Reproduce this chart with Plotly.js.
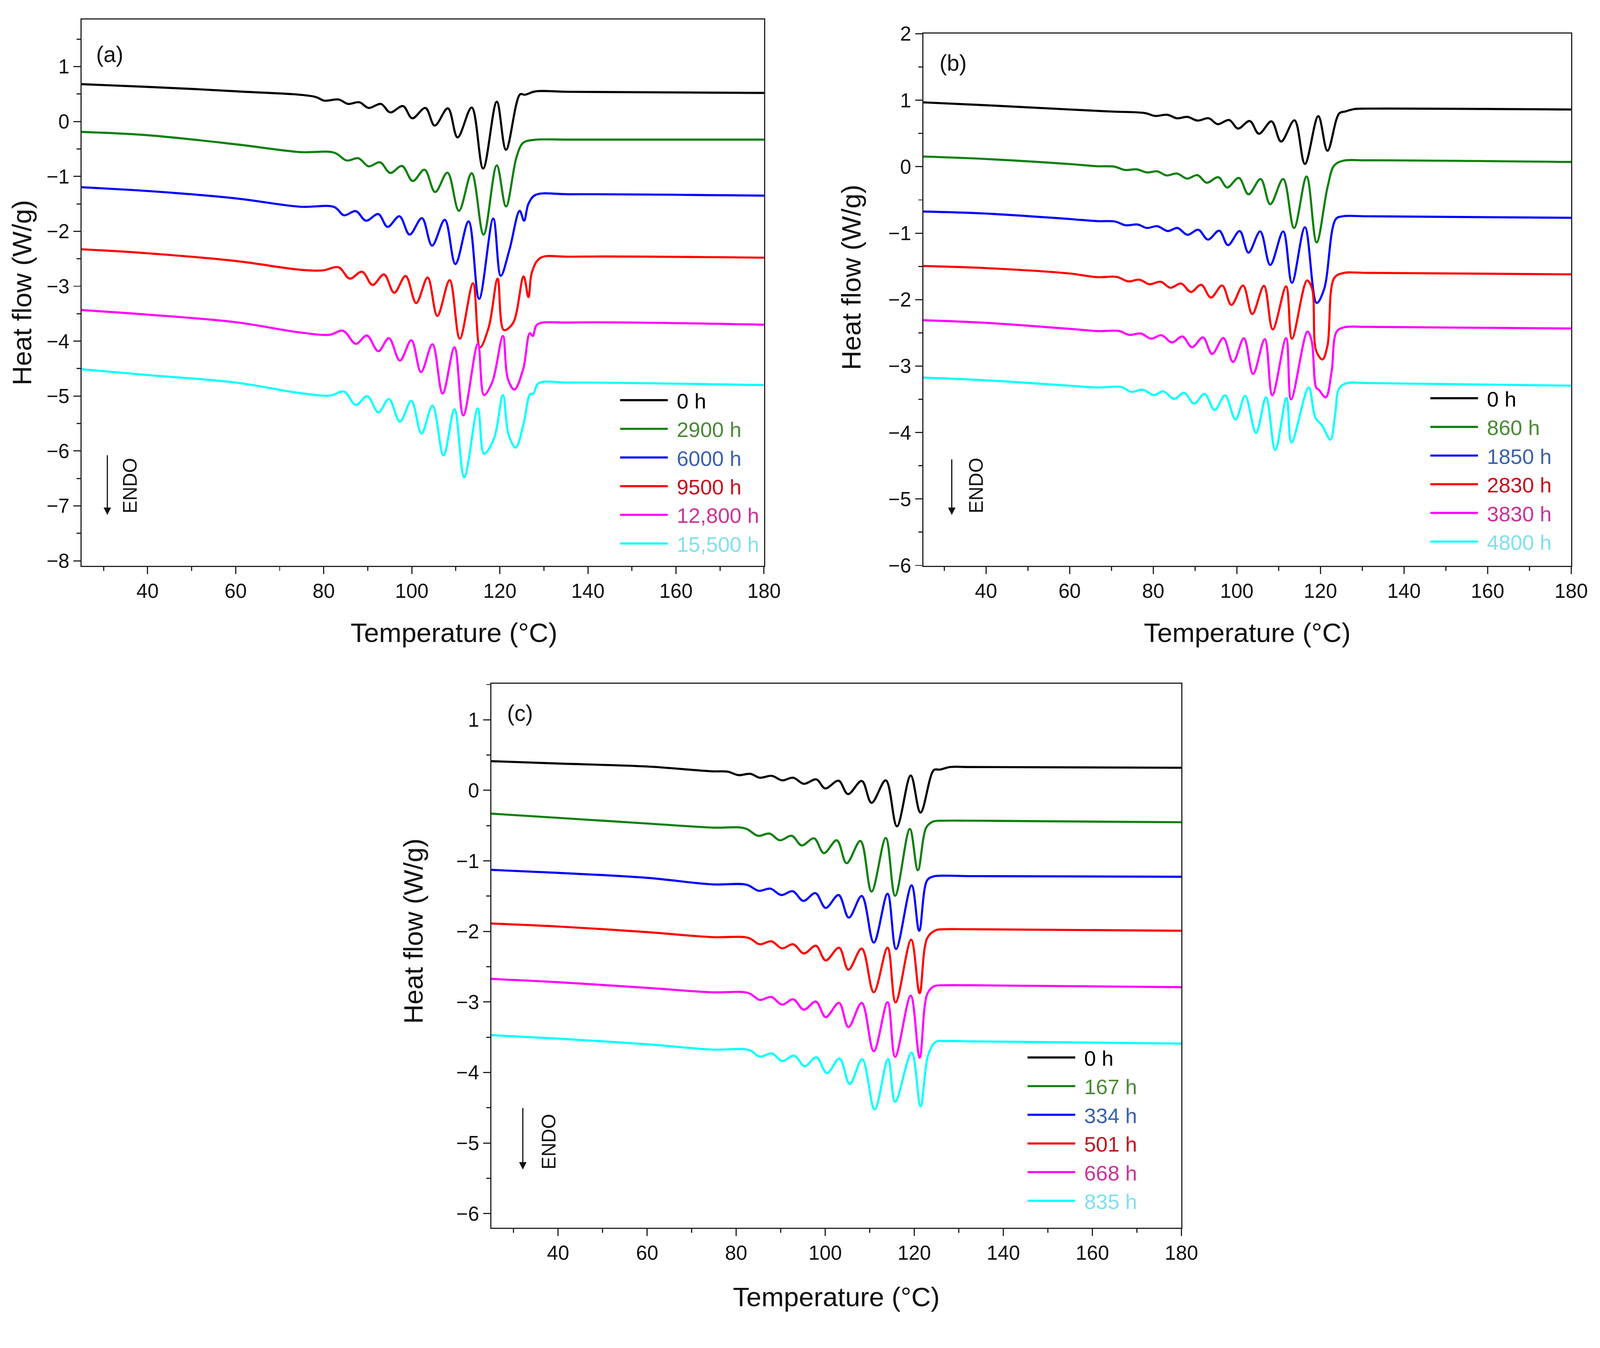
<!DOCTYPE html>
<html>
<head>
<meta charset="utf-8">
<script src="https://cdn.plot.ly/plotly-3.0.1.min.js"></script>
<style>html,body{margin:0;padding:0;background:#fff;overflow:hidden;}</style>
</head>
<body>
<div id="chart"></div>
<script>
// ---------- Panel (a) ----------
const a_names = ["0 h", "2900 h", "6000 h", "9500 h", "12,800 h", "15,500 h"];
const a_T_0 = [25, 40, 60, 78, 80.1, 83.4, 85.5, 88.1, 90.2, 93.0, 95.1, 98.0, 100.1, 103.1, 105.2, 108.2, 110.4, 113.6, 116.2, 119.3, 121.4, 124.6, 125.7, 128.1, 135.8, 180];
const a_H_0 = [0.68, 0.63, 0.55, 0.45, 0.38, 0.40, 0.32, 0.35, 0.246, 0.32, 0.165, 0.28, 0.058, 0.246, -0.075, 0.24, -0.29, 0.254, -0.857, 0.36, -0.514, 0.495, 0.487, 0.548, 0.54, 0.52];
const a_T_1 = [25, 40, 60, 74.6, 82.4, 85.2, 87.9, 90.2, 92.8, 95.1, 97.8, 100.2, 102.9, 105.3, 108.1, 110.7, 113.6, 116.3, 119.3, 121.4, 123.8, 125.3, 127.7, 135.8, 180];
const a_H_1 = [-0.19, -0.25, -0.415, -0.557, -0.568, -0.71, -0.67, -0.817, -0.744, -0.937, -0.81, -1.084, -0.878, -1.285, -0.932, -1.627, -0.942, -2.06, -0.80, -1.547, -0.643, -0.388, -0.335, -0.33, -0.33];
const a_T_2 = [25, 40, 60, 74.6, 82.4, 84.6, 87.3, 89.6, 92.4, 94.5, 97.2, 99.5, 102.3, 104.6, 107.5, 109.9, 112.9, 115.3, 118.5, 120.2, 122.2, 124.5, 125.5, 126.5, 128.1, 135.8, 180];
const a_H_2 = [-1.198, -1.266, -1.40, -1.552, -1.558, -1.708, -1.633, -1.807, -1.686, -1.92, -1.726, -2.06, -1.76, -2.26, -1.79, -2.596, -1.82, -3.23, -1.767, -2.81, -2.33, -1.627, -1.807, -1.499, -1.338, -1.325, -1.35];
const a_T_3 = [25, 40, 60, 74.6, 79.7, 83.4, 85.9, 88.7, 91.1, 93.7, 96.0, 98.6, 101.0, 103.6, 105.8, 108.6, 110.9, 113.9, 115.5, 117.5, 119.5, 120.9, 123.0, 125.4, 126.5, 127.3, 129.2, 135.8, 180];
const a_H_3 = [-2.327, -2.40, -2.54, -2.699, -2.713, -2.656, -2.862, -2.736, -2.976, -2.785, -3.119, -2.813, -3.307, -2.842, -3.541, -2.89, -3.955, -2.947, -4.112, -3.74, -2.862, -3.798, -3.67, -2.822, -3.198, -2.742, -2.485, -2.462, -2.48];
const a_T_4 = [25, 40, 60, 74.6, 81.3, 84.4, 87.3, 89.8, 92.4, 94.8, 97.3, 99.9, 102.1, 104.7, 107.0, 109.7, 111.7, 115.0, 116.4, 118.3, 120.7, 121.8, 123.3, 125.3, 126.8, 127.5, 128.5, 135.8, 180];
const a_H_4 = [-3.434, -3.517, -3.655, -3.841, -3.884, -3.812, -4.049, -3.898, -4.183, -3.946, -4.354, -3.983, -4.563, -4.055, -4.954, -4.112, -5.353, -4.049, -4.982, -4.74, -3.906, -4.68, -4.882, -4.51, -3.855, -3.906, -3.698, -3.661, -3.70];
const a_T_5 = [25, 40, 60, 74.6, 81.5, 84.6, 87.3, 89.9, 92.4, 94.8, 97.3, 99.9, 102.2, 104.7, 107.2, 109.7, 111.9, 115.0, 116.4, 118.7, 120.7, 122.0, 123.6, 125.3, 126.9, 127.6, 128.8, 135.8, 180];
const a_H_5 = [-4.511, -4.617, -4.754, -4.945, -4.99, -4.917, -5.162, -5.002, -5.296, -5.054, -5.467, -5.088, -5.682, -5.173, -6.081, -5.239, -6.48, -5.225, -6.053, -5.767, -4.982, -5.71, -5.938, -5.539, -4.962, -4.954, -4.768, -4.754, -4.80];

// ---------- Panel (b) ----------
const b_names = ["0 h", "860 h", "1850 h", "2830 h", "3830 h", "4800 h"];
const b_T_0 = [25, 40, 60, 70, 78.1, 80.4, 83.4, 85.7, 88.2, 90.6, 93.3, 95.4, 98.2, 100.3, 103.1, 105.3, 108.3, 110.6, 113.8, 116.3, 119.5, 121.7, 124.5, 126.0, 128.2, 131.0, 180];
const b_H_0 = [0.968, 0.925, 0.861, 0.83, 0.806, 0.764, 0.781, 0.729, 0.75, 0.694, 0.729, 0.64, 0.702, 0.574, 0.688, 0.496, 0.682, 0.378, 0.698, 0.042, 0.76, 0.24, 0.801, 0.832, 0.868, 0.874, 0.861];
const b_T_1 = [25, 40, 60, 66.6, 70.7, 73.2, 76.1, 78.5, 81.0, 83.2, 85.7, 88.1, 90.6, 92.8, 95.6, 97.7, 100.5, 102.8, 105.7, 108.0, 111.1, 113.7, 116.7, 119.1, 121.7, 123.3, 125.4, 131.0, 180];
const b_H_1 = [0.153, 0.116, 0.04, 0.007, 0.001, -0.049, -0.04, -0.086, -0.07, -0.131, -0.103, -0.179, -0.127, -0.241, -0.158, -0.313, -0.169, -0.416, -0.185, -0.565, -0.185, -0.922, -0.148, -1.139, -0.313, 0.017, 0.089, 0.096, 0.071];
const b_T_2 = [25, 40, 60, 66.6, 70.9, 73.4, 76.3, 78.5, 81.0, 83.5, 85.8, 88.2, 90.8, 93.1, 95.8, 97.9, 100.7, 102.8, 105.6, 108.0, 111.1, 113.2, 116.3, 119.1, 120.9, 123.7, 125.4, 131.0, 180];
const b_H_2 = [-0.675, -0.705, -0.787, -0.819, -0.825, -0.881, -0.87, -0.922, -0.895, -0.969, -0.922, -1.025, -0.949, -1.097, -0.963, -1.18, -0.969, -1.293, -0.974, -1.479, -0.974, -1.748, -0.912, -2.05, -1.84, -0.788, -0.746, -0.746, -0.769];
const b_T_3 = [25, 40, 60, 66.6, 71.3, 74.0, 76.7, 79.1, 81.8, 84.1, 86.7, 89.0, 91.5, 93.8, 96.5, 98.7, 101.5, 103.7, 106.5, 108.6, 111.8, 113.2, 116.8, 118.0, 119.0, 120.5, 121.7, 123.3, 125.4, 131.0, 180];
const b_H_3 = [-1.495, -1.526, -1.607, -1.662, -1.658, -1.725, -1.70, -1.769, -1.731, -1.821, -1.758, -1.884, -1.777, -1.969, -1.788, -2.08, -1.788, -2.218, -1.792, -2.448, -1.802, -2.588, -1.712, -1.83, -2.77, -2.90, -2.693, -1.677, -1.601, -1.597, -1.62];
const b_T_4 = [25, 40, 60, 66.6, 71.9, 74.2, 77.1, 79.5, 82.0, 84.5, 87.0, 89.3, 91.9, 94.1, 96.8, 99.1, 101.7, 103.9, 106.7, 108.5, 111.8, 113.0, 116.9, 117.9, 119.0, 119.6, 121.3, 122.7, 123.9, 125.8, 131.0, 180];
const b_H_4 = [-2.31, -2.35, -2.44, -2.473, -2.473, -2.53, -2.511, -2.588, -2.536, -2.645, -2.555, -2.716, -2.569, -2.818, -2.578, -2.939, -2.582, -3.119, -2.594, -3.441, -2.578, -3.502, -2.482, -2.617, -3.326, -3.355, -3.47, -3.077, -2.482, -2.415, -2.41, -2.435];
const b_T_5 = [25, 40, 60, 66.6, 72.4, 74.8, 77.5, 80.2, 82.4, 85.0, 87.4, 89.8, 92.3, 94.7, 97.2, 99.7, 102.0, 104.6, 107.0, 109.2, 111.9, 113.1, 117.2, 118.8, 120.4, 122.4, 123.5, 124.5, 126.2, 131.0, 180];
const b_H_5 = [-3.174, -3.214, -3.295, -3.322, -3.316, -3.387, -3.355, -3.437, -3.38, -3.494, -3.402, -3.565, -3.418, -3.661, -3.441, -3.805, -3.45, -4.006, -3.47, -4.261, -3.479, -4.15, -3.322, -3.776, -3.891, -4.108, -3.748, -3.335, -3.259, -3.255, -3.295];

// ---------- Panel (c) ----------
const c_names = ["0 h", "167 h", "334 h", "501 h", "668 h", "835 h"];
const c_T_0 = [25, 40, 60, 74.6, 78.1, 80.5, 83.2, 85.3, 88.0, 90.3, 92.8, 95.2, 98.0, 100.0, 103.0, 105.1, 108.2, 110.4, 113.6, 116.1, 119.2, 121.4, 124.4, 125.7, 128.1, 132.4, 180];
const c_H_0 = [0.414, 0.38, 0.338, 0.27, 0.265, 0.216, 0.234, 0.179, 0.206, 0.142, 0.179, 0.093, 0.155, 0.027, 0.137, -0.053, 0.133, -0.177, 0.142, -0.51, 0.21, -0.315, 0.289, 0.294, 0.331, 0.331, 0.32];
const c_T_1 = [25, 40, 60, 74.6, 82.0, 84.9, 87.5, 89.8, 92.5, 94.7, 97.5, 99.7, 102.6, 104.8, 107.9, 110.4, 113.6, 115.7, 119.0, 120.8, 122.7, 124.2, 127.0, 132.4, 180];
const c_H_1 = [-0.33, -0.39, -0.47, -0.528, -0.539, -0.644, -0.613, -0.708, -0.644, -0.781, -0.680, -0.890, -0.708, -1.033, -0.717, -1.435, -0.675, -1.494, -0.547, -1.132, -0.525, -0.443, -0.430, -0.430, -0.452];
const c_T_2 = [25, 40, 60, 74.6, 82.3, 85.1, 87.7, 90.1, 92.7, 95.1, 97.8, 100.1, 103.0, 105.3, 108.2, 110.9, 114.0, 115.9, 119.4, 121.1, 122.9, 124.4, 127.0, 132.4, 180];
const c_H_2 = [-1.127, -1.17, -1.24, -1.333, -1.338, -1.424, -1.393, -1.484, -1.430, -1.567, -1.457, -1.667, -1.484, -1.804, -1.497, -2.158, -1.466, -2.249, -1.347, -1.99, -1.274, -1.219, -1.210, -1.216, -1.225];
const c_T_3 = [25, 40, 60, 74.6, 82.7, 85.3, 87.9, 90.3, 92.8, 95.2, 97.9, 100.1, 103.1, 105.2, 108.2, 110.9, 114.0, 115.8, 119.3, 121.2, 122.9, 124.8, 127.0, 132.4, 180];
const c_H_3 = [-1.888, -1.93, -2.01, -2.081, -2.091, -2.182, -2.140, -2.240, -2.182, -2.312, -2.203, -2.411, -2.231, -2.543, -2.243, -2.863, -2.231, -3.007, -2.117, -2.875, -2.095, -1.983, -1.969, -1.969, -1.99];
const c_T_4 = [25, 40, 60, 74.6, 82.7, 85.3, 87.9, 90.3, 92.8, 95.2, 97.9, 100.1, 103.1, 105.2, 108.2, 110.9, 114.0, 115.7, 119.2, 121.2, 122.9, 124.4, 127.0, 132.4, 180];
const c_H_4 = [-2.673, -2.72, -2.80, -2.863, -2.872, -2.971, -2.929, -3.038, -2.962, -3.110, -2.994, -3.215, -3.013, -3.356, -3.013, -3.699, -3.002, -3.778, -2.911, -3.789, -2.890, -2.778, -2.763, -2.763, -2.79];
const c_T_5 = [25, 40, 60, 74.6, 82.9, 85.3, 88.0, 90.4, 93.0, 95.4, 98.0, 100.4, 103.2, 105.5, 108.3, 111.1, 114.1, 115.7, 119.4, 121.4, 123.1, 124.8, 127.3, 132.4, 180];
const c_H_5 = [-3.47, -3.52, -3.60, -3.675, -3.681, -3.775, -3.730, -3.838, -3.760, -3.910, -3.784, -4.009, -3.802, -4.163, -3.811, -4.524, -3.811, -4.416, -3.717, -4.479, -3.757, -3.567, -3.554, -3.558, -3.59];

// ---------- styling ----------
const lineColors = ["#000000", "#0a800a", "#0000ff", "#ff0000", "#ff00ff", "#00ffff"];
const textColors = ["#000000", "#4a8a36", "#3a62ad", "#c8101c", "#cc3399", "#80e0ee"];
const FONT = 'Arial, "Liberation Sans", sans-serif';

// fit the figure to the real viewport width, keep the reference aspect ratio, scale pixel sizes
let W = window.innerWidth;
if (!W || W < 1000) W = 4159;
W = Math.min(W, 4159);
const s = W / 4159;
const H = Math.round(3452 * s);
const px = v => v * s;

function series(Ts, Hs, names, xa, ya, leg) {
  return Ts.map((T, i) => ({
    type: 'scatter', mode: 'lines', x: T, y: Hs[i],
    xaxis: xa, yaxis: ya, legend: leg,
    name: '<span style="color:' + textColors[i] + '">' + names[i] + '</span>',
    line: {color: lineColors[i], width: px(5.5), shape: 'spline', smoothing: 1},
    hoverinfo: 'skip'
  }));
}

const traces = [].concat(
  series([a_T_0, a_T_1, a_T_2, a_T_3, a_T_4, a_T_5], [a_H_0, a_H_1, a_H_2, a_H_3, a_H_4, a_H_5], a_names, 'x', 'y', 'legend'),
  series([b_T_0, b_T_1, b_T_2, b_T_3, b_T_4, b_T_5], [b_H_0, b_H_1, b_H_2, b_H_3, b_H_4, b_H_5], b_names, 'x2', 'y2', 'legend2'),
  series([c_T_0, c_T_1, c_T_2, c_T_3, c_T_4, c_T_5], [c_H_0, c_H_1, c_H_2, c_H_3, c_H_4, c_H_5], c_names, 'x3', 'y3', 'legend3')
);

const AXC = '#222222';
function xax(domain, anchor, standoff) {
  return {
    domain: domain, anchor: anchor, range: [25, 180], dtick: 20, tick0: 0,
    showline: true, linecolor: AXC, linewidth: px(3), mirror: true,
    ticks: 'outside', ticklen: px(18), tickwidth: px(3), tickcolor: AXC,
    minor: {ticks: 'outside', dtick: 10, ticklen: px(10), tickwidth: px(3), tickcolor: AXC},
    showgrid: false, zeroline: false,
    tickfont: {family: FONT, size: px(52), color: '#111'},
    ticklabelstandoff: px(20),
    title: {text: 'Temperature (°C)', font: {family: FONT, size: px(70), color: '#111'}, standoff: px(standoff)}
  };
}
function yax(domain, anchor, range, standoff) {
  return {
    domain: domain, anchor: anchor, range: range, dtick: 1, tick0: 0,
    showline: true, linecolor: AXC, linewidth: px(3), mirror: true,
    ticks: 'outside', ticklen: px(18), tickwidth: px(3), tickcolor: AXC,
    minor: {ticks: 'outside', dtick: 0.5, ticklen: px(10), tickwidth: px(3), tickcolor: AXC},
    showgrid: false, zeroline: false,
    tickfont: {family: FONT, size: px(52), color: '#111'},
    ticklabelstandoff: px(10),
    title: {text: 'Heat flow (W/g)', font: {family: FONT, size: px(70), color: '#111'}, standoff: px(standoff)}
  };
}
function leg(x, y) {
  return {x: x, y: y, xanchor: 'left', yanchor: 'top', bgcolor: 'rgba(0,0,0,0)', borderwidth: 0,
          font: {family: FONT, size: px(55), color: '#000'}, itemwidth: Math.max(30, px(142)), tracegroupgap: 0};
}
function label(txt, x, y) {
  return {text: txt, x: x, y: y, xref: 'paper', yref: 'paper', showarrow: false,
          font: {family: FONT, size: px(58), color: '#111'}, xanchor: 'center', yanchor: 'middle'};
}
function endoArrow(x, y, ay) {
  return {text: '', x: x, y: y, xref: 'paper', yref: 'paper', showarrow: true,
          ax: 0, ay: px(ay), arrowhead: 2, arrowsize: 1.3, arrowwidth: px(3), arrowcolor: '#111'};
}
function endoText(x, y) {
  return {text: 'ENDO', x: x, y: y, xref: 'paper', yref: 'paper', showarrow: false, textangle: -90,
          font: {family: FONT, size: px(50), color: '#111'}, xanchor: 'center', yanchor: 'middle'};
}

const layout = {
  width: W, height: H, margin: {l: 0, r: 0, t: 0, b: 0},
  paper_bgcolor: '#ffffff', plot_bgcolor: '#ffffff', showlegend: true,
  font: {family: FONT, size: px(52), color: '#111'},
  xaxis: xax([0.05097, 0.47752], 'y', 56),
  yaxis: yax([0.57387, 0.98523], 'x', [-8.09, 1.855], 17),
  xaxis2: xax([0.57706, 0.98197], 'y2', 56),
  yaxis2: yax([0.57387, 0.97480], 'x2', [-6.005, 2.005], 49),
  xaxis3: xax([0.30705, 0.73840], 'y3', 62),
  yaxis3: yax([0.07532, 0.48494], 'x3', [-6.2, 1.51], 65),
  legend: leg(1607 / 4159, 1 - 998 / 3452),
  legend2: leg(3713 / 4159, 1 - 993 / 3452),
  legend3: leg(2666 / 4159, 1 - 2707 / 3452),
  annotations: [
    label('(a)', 285 / 4159, 1 - 141 / 3452),
    label('(b)', 2478 / 4159, 1 - 163 / 3452),
    label('(c)', 1352 / 4159, 1 - 1854 / 3452),
    endoArrow(279 / 4159, 1 - 1339 / 3452, -157),
    endoText(338 / 4159, 1 - 1263 / 3452),
    endoArrow(2474 / 4159, 1 - 1339 / 3452, -146),
    endoText(2537 / 4159, 1 - 1263 / 3452),
    endoArrow(1359 / 4159, 1 - 3041 / 3452, -162),
    endoText(1426 / 4159, 1 - 2968 / 3452)
  ]
};

const chartDiv = document.getElementById('chart');
chartDiv.style.width = W + 'px';
chartDiv.style.height = H + 'px';

function shiftTitle(cls, dx, dy) {
  const g = document.querySelector('.' + cls);
  if (!g) return;
  const prev = g.getAttribute('transform') || '';
  g.setAttribute('transform', prev + ' translate(' + px(dx).toFixed(1) + ',' + px(dy).toFixed(1) + ')');
}

Plotly.newPlot(chartDiv, traces, layout, {displayModeBar: false, staticPlot: true}).then(function () {
  // legend line samples: slightly shorter than the symbol column, leaving a gap before the label
  const len = Math.round(px(124));
  document.querySelectorAll('.legendlines path').forEach(function (p) {
    p.setAttribute('d', 'M' + px(5).toFixed(1) + ',0h' + len);
  });
  // axis titles that sit off-centre in the reference
  shiftTitle('g-xtitle', 81, 0);
  shiftTitle('g-y2title', 0, -58);
  shiftTitle('g-y3title', 0, -64);
});
</script>
</body>
</html>
